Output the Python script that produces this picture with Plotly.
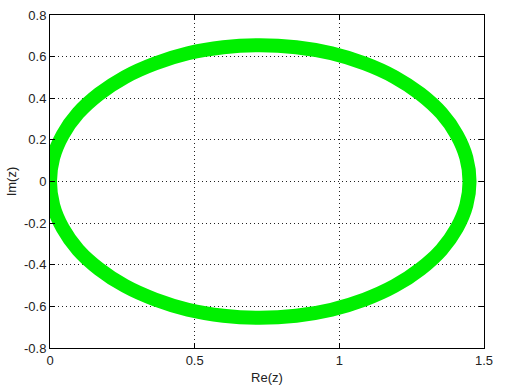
import plotly.graph_objects as go

# Points (Re, Im)
re_vals = [1.450, 1.439, 1.406, 1.353, 1.280, 1.191, 1.088, 0.973, 0.851, 0.725,
           0.599, 0.477, 0.363, 0.259, 0.170, 0.097, 0.044, 0.011, 0.000,
           0.011, 0.044, 0.097, 0.170, 0.259, 0.363, 0.477, 0.599, 0.725,
           0.851, 0.973, 1.088, 1.191, 1.280, 1.353, 1.406, 1.439, 1.450]
im_vals = [0.000, 0.114, 0.224, 0.328, 0.421, 0.502, 0.567, 0.616, 0.645, 0.655,
           0.645, 0.616, 0.567, 0.502, 0.421, 0.328, 0.224, 0.114, 0.000,
           -0.114, -0.224, -0.328, -0.421, -0.502, -0.567, -0.616, -0.645, -0.655,
           -0.645, -0.616, -0.567, -0.502, -0.421, -0.328, -0.224, -0.114, 0.000]

x_ticks = [0, 0.5, 1, 1.5]
x_labels = ["0", "0.5", "1", "1.5"]
y_ticks = [0.8, 0.6, 0.4, 0.2, 0, -0.2, -0.4, -0.6, -0.8]
y_labels = ["0.8", "0.6", "0.4", "0.2", "0", "-0.2", "-0.4", "-0.6", "-0.8"]

FONT = dict(family="Liberation Sans, Arial", size=13, color="#222")

fig = go.Figure()
fig.add_trace(go.Scatter(x=re_vals, y=im_vals, mode="lines",
                         line=dict(color="#00f000", width=14, shape="spline"),
                         hoverinfo="skip"))

axis_common = dict(showline=True, linecolor="black", linewidth=1, mirror="ticks",
                   ticks="inside", ticklen=5, tickcolor="black",
                   showgrid=True, gridcolor="#222", griddash="1px,3px", gridwidth=1,
                   zeroline=False, tickfont=FONT)

fig.update_layout(
    width=512, height=391,
    margin=dict(l=50, r=28, t=8, b=41),
    paper_bgcolor="white", plot_bgcolor="white",
    showlegend=False,
    xaxis=dict(range=[0, 1.5], tickvals=x_ticks, ticktext=x_labels,
               title=dict(text="Re(z)", standoff=6, font=FONT),
               **axis_common),
    yaxis=dict(range=[-0.8, 0.8], tickvals=y_ticks, ticktext=y_labels,
               title=dict(text="Im(z)", standoff=4, font=FONT),
               **axis_common),
)

fig.write_html("out.html")
